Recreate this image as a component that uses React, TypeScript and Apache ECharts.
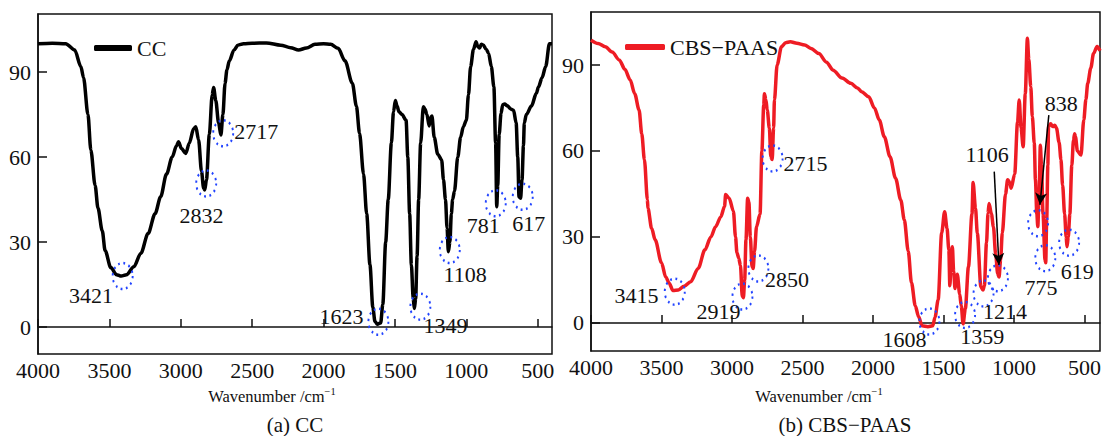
import React, { useEffect, useRef } from "react";
import * as echarts from "echarts";

// ---- CC spectrum (wavenumber, transmittance %) ----
const ccWn = [4000,3900,3806,3743,3700,3681,3650,3630,3600,3580,3550,3530,3490,3450,3417,3380,3329,3280,3229,3180,3141,3100,3060,3030,3016,2995,2965,2940,2910,2895,2875,2855,2840,2832,2820,2800,2780,2770,2755,2735,2719,2705,2690,2677,2660,2627,2600,2560,2500,2400,2300,2230,2175,2120,2060,2000,1950,1898,1850,1798,1770,1748,1720,1698,1675,1655,1640,1623,1600,1585,1565,1547,1525,1510,1497,1485,1472,1450,1422,1410,1397,1385,1372,1364,1355,1345,1334,1320,1301,1290,1276,1260,1250,1241,1225,1200,1173,1160,1146,1135,1126,1115,1105,1096,1083,1060,1040,1021,1000,985,970,950,932,920,907,895,882,860,844,825,807,795,787,780,770,757,745,732,710,690,669,651,640,631,620,610,600,594,580,544,510,494,470,444,418,400];
const ccT = [100,100.2,100,97.8,92,88,75,62.5,50,42,34,27,21,18.5,18,18.5,21.3,26,33,40,46,54,60,64,65.4,63,61.3,65,70,70.7,66,55,49,48.4,52,68,82,84.6,80,72,67.8,75,86,90.7,94,97.8,99.5,100,100.2,100.3,99.5,98.6,97.8,98.5,99.8,100,99.8,98.4,94,86,78,68.4,54,40,22,7,2,1,1.5,8,30,45,65,76,80,78,76,75,73,60,40,22,10,6.6,10,25,45,65,77.8,77,75,71,74,74.5,67,61,59,52,45,35,26.6,30,40,45,48,60,67,70.7,73,82,91.9,98,100.7,99,98.5,99.8,99.6,98,96.6,92,84.8,65,42.5,50,68,75.4,78.5,78.7,78,77,76.5,72,60,46,45.5,52,64,72,75,78,82.5,84.8,88,92,100,100];

const ccCircleWn = [3407, 2822, 2703, 1616, 1322, 1116, 794, 605];
const ccCircleT = [18, 50.7, 68.4, 1.9, 7.2, 27.2, 43.7, 46];
const ccLabelText = ["3421", "2832", "2717", "1623", "1349", "1108", "781", "617"];
const ccLabelWn = [3628, 2854, 2472, 1874, 1146, 1008, 882, 563];
const ccLabelT = [11.3, 39.5, 69, 3.6, 0.4, 18.7, 36, 36.6];

// ---- CBS-PAAS spectrum ----
const cbsWn = [4000,3950,3899,3850,3798,3760,3722,3690,3659,3640,3621,3600,3596,3570,3545,3500,3470,3445,3419,3380,3340,3293,3240,3192,3150,3116,3080,3053,3045,3020,2990,2975,2965,2952,2940,2927,2919,2910,2901,2889,2880,2870,2858,2850,2840,2826,2801,2788,2775,2770,2760,2750,2735,2725,2715,2705,2699,2680,2649,2620,2586,2540,2485,2440,2384,2330,2283,2220,2157,2110,2081,2030,1990,1955,1920,1879,1840,1803,1778,1750,1727,1700,1677,1652,1610,1576,1560,1538,1513,1492,1475,1462,1455,1445,1437,1428,1418,1410,1402,1385,1374,1361,1345,1323,1298,1290,1273,1260,1235,1220,1210,1195,1184,1177,1160,1146,1130,1116,1106,1095,1083,1060,1045,1030,1020,995,975,963,950,935,920,905,895,881,870,856,848,838,831,822,813,805,794,780,775,768,760,755,740,725,710,699,680,667,655,641,630,624,615,604,590,578,570,564,550,525,505,490,477,455,436,411,390];
const cbsT = [98.7,97.5,96.4,94.5,91.7,88.5,84.8,80,74.3,66,56.9,43,40,33,29,21,16,13.8,11.3,11.5,12.8,14.4,19,25.5,30,33.6,37,40.6,44.8,43.5,39,30,24.5,22.6,20,9.2,8.8,15,29,43.5,42,30,19.6,19,25,33.6,38,60,76,80,78,74.3,68,58,57,68,77.8,90,96.4,97.8,98.1,97.6,97,95.8,94,91,88.2,85.5,83.6,82,80.7,78.9,75,70.8,65,58,50.5,42.9,36,25,14,6,2.2,-1,-1.3,-1,2,8,31.4,38.8,33,25.5,13,22,26.6,18,12,15,17,10,6,-0.3,5,19.6,38,49,40,31.3,12.7,11.5,13,28,38.3,41.7,38,33.6,24,17.3,16,22,31.4,45,50,49,47,52,70,77.8,68,61.5,80,99.3,92,82.4,72,62.7,50,38,33.6,45,62,55,38,22,21,36,55,68.5,69.5,68.5,69,68,63,57,48,38,30,26.6,30,38,55,63.8,66,65,60,58.6,70.8,78,83.6,89,94,96.5,95];

const cbsCircleWn = [3406, 2926, 2813, 2712, 1600, 1347, 1216, 1114, 829, 778, 609];
const cbsCircleT = [10.9, 9.2, 19, 57.4, 0.5, 2.8, 10.3, 15.6, 34.8, 22.6, 28];
const cbsLabelText = ["3415", "2919", "2850", "2715", "1608", "1359", "1214", "1106", "838", "775", "619"];
const cbsLabelWn = [3677, 3096, 2610, 2479, 1777, 1226, 1064, 1190, 665, 809, 551];
const cbsLabelT = [9.4, 3.9, 15, 55.7, -5.9, -4.8, 4, 58.6, 76.6, 12.4, 17.9];
const cbsArrowFrom = [[1140, 52.8], [753, 72.5]];
const cbsArrowTo = [[1107, 20.2], [816, 41.2]];

const xTicks = [500, 1000, 1500, 2000, 2500, 3000, 3500, 4000];
const yTicks = [0, 30, 60, 90];

const FONT = "'Liberation Serif', 'DejaVu Serif', serif";
const INK = "#111";
const BLUE = "#2244ff";

function xAxis(gi: number, min: number) {
  return {
    type: "value", gridIndex: gi, min, max: 4000, inverse: true,
    axisLine: { show: true, lineStyle: { color: INK, width: 1.5 } },
    axisTick: { show: true, inside: true, length: 8, customValues: xTicks, lineStyle: { color: INK, width: 1.5 } },
    axisLabel: { customValues: xTicks, fontSize: 22, color: INK, fontFamily: FONT, margin: 5, formatter: (v: number) => String(v) },
    splitLine: { show: false },
  };
}
function yAxis(gi: number, min: number, max: number) {
  return {
    type: "value", gridIndex: gi, min, max,
    axisLine: { show: true, lineStyle: { color: INK, width: 1.5 } },
    axisTick: { show: true, inside: true, length: 9, customValues: yTicks, lineStyle: { color: INK, width: 1.5 } },
    axisLabel: { customValues: yTicks, fontSize: 22, color: INK, fontFamily: FONT, margin: 7, formatter: (v: number) => String(v) },
    splitLine: { show: false },
  };
}

function circles(gi: number, wn: number[], t: number[]) {
  return {
    type: "scatter", xAxisIndex: gi, yAxisIndex: gi, symbol: "circle", symbolSize: [20, 26],
    data: wn.map((w, i) => [w, t[i]]), z: 3,
    itemStyle: { color: "rgba(0,0,0,0)", opacity: 1, borderColor: BLUE, borderWidth: 2.2, borderType: [2, 4] },
  };
}
function labels(gi: number, txt: string[], wn: number[], t: number[], extra: any = {}) {
  return {
    type: "scatter", xAxisIndex: gi, yAxisIndex: gi, symbolSize: 1, z: 4, clip: false,
    itemStyle: { color: "rgba(0,0,0,0)", opacity: 1 },
    data: txt.map((s, i) => ({ name: s, value: [wn[i], t[i]] })),
    label: { show: true, position: "inside", formatter: "{b}", fontSize: 22, color: INK, opacity: 1, fontFamily: FONT },
    ...extra,
  };
}

export default function App() {
  const ref = useRef<HTMLDivElement>(null);
  useEffect(() => {
    if (!ref.current) return;
    const chart = echarts.init(ref.current, null, { renderer: "svg" });
    const nameRich = {
      a: { fontSize: 16.5, fontFamily: FONT, fill: INK, lineHeight: 20 },
      s: { fontSize: 10.5, fontFamily: FONT, fill: INK, lineHeight: 20, verticalAlign: "top" },
    };
    chart.setOption({
      animation: false,
      backgroundColor: "#fff",
      grid: [
        { left: 38, top: 14, width: 514, height: 340, show: true, borderColor: INK, borderWidth: 1.5 },
        { left: 591, top: 12, width: 509, height: 339, show: true, borderColor: INK, borderWidth: 1.5 },
      ],
      xAxis: [xAxis(0, 400), xAxis(1, 390)],
      yAxis: [yAxis(0, -9.5, 110.5), yAxis(1, -9.8, 108.5)],
      legend: [
        { data: ["CC"], left: 89, top: 32, icon: "roundRect", itemWidth: 38, itemHeight: 6, itemGap: 0,
          textStyle: { fontSize: 22, color: INK, fontFamily: FONT } },
        { data: ["CBS\u2212PAAS"], left: 620, top: 31, icon: "roundRect", itemWidth: 40, itemHeight: 6, itemGap: 0,
          textStyle: { fontSize: 22, color: INK, fontFamily: FONT } },
      ],
      series: [
        { name: "CC", type: "line", xAxisIndex: 0, yAxisIndex: 0, showSymbol: false, smooth: 0.3, smoothMonotone: "x",
          data: ccWn.map((w, i) => [w, ccT[i]]), lineStyle: { color: "#000", width: 3.5 }, itemStyle: { color: "#000" } },
        circles(0, ccCircleWn, ccCircleT),
        labels(0, ccLabelText, ccLabelWn, ccLabelT),
        { name: "CBS\u2212PAAS", type: "line", xAxisIndex: 1, yAxisIndex: 1, showSymbol: false, smooth: 0.3, smoothMonotone: "x",
          data: cbsWn.map((w, i) => [w, cbsT[i]]), lineStyle: { color: "#ee1c24", width: 3.5 }, itemStyle: { color: "#ee1c24" } },
        circles(1, cbsCircleWn, cbsCircleT),
        labels(1, cbsLabelText, cbsLabelWn, cbsLabelT, {
          markLine: {
            silent: true, symbol: ["none", "arrow"], symbolSize: [9, 12],
            lineStyle: { color: "#000", width: 1.5, type: "solid", opacity: 1 }, label: { show: false },
            data: cbsArrowFrom.map((f, i) => [{ coord: f }, { coord: cbsArrowTo[i] }]),
          },
        }),
      ],
      graphic: [
        { type: "text", x: 272, y: 396, style: { text: "{a|Wavenumber /cm}{s|\u22121}", rich: nameRich, align: "center", verticalAlign: "middle" } },
        { type: "text", x: 819, y: 396, style: { text: "{a|Wavenumber /cm}{s|\u22121}", rich: nameRich, align: "center", verticalAlign: "middle" } },
        { type: "text", x: 295, y: 425, style: { text: "(a) CC", fontSize: 21, fontFamily: FONT, fill: INK, align: "center", verticalAlign: "middle" } },
        { type: "text", x: 845, y: 425, style: { text: "(b) CBS\u2212PAAS", fontSize: 21, fontFamily: FONT, fill: INK, align: "center", verticalAlign: "middle" } },
      ],
    });
    return () => chart.dispose();
  }, []);
  return <div ref={ref} style={{ position: "absolute", left: 0, top: 0, width: 1107, height: 436 }} />;
}
